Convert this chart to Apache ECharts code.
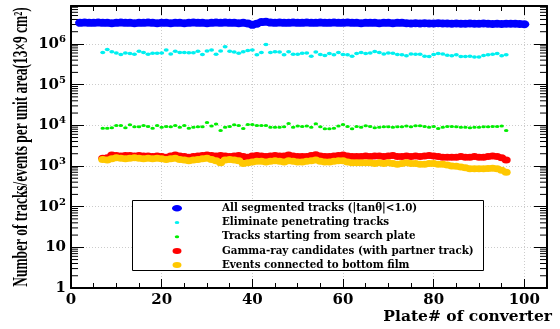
<!doctype html>
<html lang="en">
  <head>
    <meta charset="utf-8">
    <title>Tracks per plate</title>
    <script src="https://cdn.jsdelivr.net/npm/echarts@6.0.0/dist/echarts.min.js"></script>
    <style>
      html, body {
        width: 100%;
        height: 100%;
        margin: 0;
        background: #fff;
      }

      #chart {
        width: 560px;
        height: 329px;
      }
    </style>
  </head>
  <body>
    <div id="chart"></div>
    <script>
      // plate numbers (consecutive) for each series
      const range = (a, b) => { let r = []; for (let i = a; i <= b; i++) r.push(i); return r; };
      const platesAll = range(2, 100);
      const platesRest = range(7, 96);

      const seriesNames = [
        'All segmented tracks (|tan\u03b8|<1.0)',
        'Eliminate penetrating tracks',
        'Tracks starting from search plate',
        'Gamma-ray candidates (with partner track)',
        'Events connected to bottom film'
      ];
      const seriesColors = ['#0000ff', '#00f0f0', '#00ee00', '#ff0000', '#ffc800'];

      // plates 2..100
      const allTracks = [
        3.3e6, 3.35e6, 3.3e6, 3.3e6, 3.35e6, 3.3e6, 3.3e6, 3.25e6, 3.3e6, 3.35e6,
        3.3e6, 3.3e6, 3.25e6, 3.3e6, 3.3e6, 3.35e6, 3.3e6, 3.25e6, 3.3e6, 3.3e6,
        3.25e6, 3.3e6, 3.3e6, 3.25e6, 3.3e6, 3.35e6, 3.3e6, 3.3e6, 3.25e6, 3.3e6,
        3.35e6, 3.3e6, 3.35e6, 3.3e6, 3.3e6, 3.25e6, 3.3e6, 3.2e6, 2.95e6, 3.15e6,
        3.45e6, 3.5e6, 3.35e6, 3.3e6, 3.35e6, 3.3e6, 3.3e6, 3.35e6, 3.3e6, 3.3e6,
        3.35e6, 3.3e6, 3.3e6, 3.35e6, 3.3e6, 3.3e6, 3.35e6, 3.3e6, 3.3e6, 3.35e6,
        3.3e6, 3.3e6, 3.25e6, 3.3e6, 3.3e6, 3.3e6, 3.25e6, 3.3e6, 3.3e6, 3.25e6,
        3.3e6, 3.3e6, 3.25e6, 3.2e6, 3.25e6, 3.2e6, 3.25e6, 3.2e6, 3.2e6, 3.25e6,
        3.2e6, 3.2e6, 3.15e6, 3.2e6, 3.15e6, 3.15e6, 3.2e6, 3.15e6, 3.15e6, 3.2e6,
        3.15e6, 3.1e6, 3.15e6, 3.1e6, 3.15e6, 3.15e6, 3.15e6, 3.1e6, 3.05e6
      ];

      // plates 7..96
      const nonPenetrating = [
        6.2e5, 7.3e5, 6.4e5, 6.0e5, 5.5e5, 6.0e5, 5.8e5, 5.6e5, 6.6e5, 6.2e5,
        5.6e5, 5.9e5, 5.9e5, 6.0e5, 7.1e5, 5.7e5, 6.6e5, 6.2e5, 6.2e5, 6.1e5,
        6.1e5, 6.6e5, 5.5e5, 6.7e5, 7.1e5, 5.6e5, 6.7e5, 8.5e5, 6.6e5, 6.3e5,
        5.9e5, 6.4e5, 6.9e5, 7.1e5, 5.4e5, 6.2e5, 9.7e5, 6.2e5, 6.4e5, 6.3e5,
        5.4e5, 6.4e5, 5.6e5, 5.6e5, 5.9e5, 6.0e5, 5.0e5, 6.3e5, 5.5e5, 5.2e5,
        5.8e5, 5.4e5, 6.2e5, 5.5e5, 5.4e5, 5.0e5, 5.8e5, 6.2e5, 5.8e5, 6.0e5,
        6.5e5, 6.2e5, 5.7e5, 6.0e5, 5.9e5, 5.5e5, 5.4e5, 5.1e5, 5.7e5, 5.6e5,
        5.6e5, 5.0e5, 4.9e5, 5.5e5, 5.8e5, 5.7e5, 5.3e5, 5.1e5, 5.4e5, 4.9e5,
        4.9e5, 5.0e5, 4.8e5, 4.8e5, 5.2e5, 5.4e5, 5.6e5, 5.8e5, 5.1e5, 5.4e5
      ];

      // plates 7..96
      const startingTracks = [
        8.5e3, 8.5e3, 8.7e3, 9.9e3, 9.9e3, 8.7e3, 1.03e4, 9.2e3, 9.2e3, 9.9e3,
        9.4e3, 8.5e3, 9.9e3, 8.9e3, 9.4e3, 9.2e3, 9.9e3, 8.9e3, 9.9e3, 8.5e3,
        9.0e3, 9.2e3, 9.2e3, 1.18e4, 9.6e3, 1.07e4, 7.5e3, 8.9e3, 9.4e3, 1.03e4,
        9.9e3, 8.4e3, 1.05e4, 1.05e4, 9.9e3, 9.9e3, 9.9e3, 8.9e3, 9.0e3, 9.0e3,
        9.2e3, 1.11e4, 8.9e3, 9.6e3, 9.4e3, 9.6e3, 9.0e3, 1.09e4, 9.2e3, 8.2e3,
        8.2e3, 8.5e3, 9.6e3, 1.05e4, 9.4e3, 8.2e3, 9.4e3, 8.9e3, 9.7e3, 9.4e3,
        8.7e3, 8.9e3, 9.2e3, 9.2e3, 9.0e3, 9.2e3, 9.2e3, 9.6e3, 9.2e3, 9.7e3,
        9.7e3, 9.4e3, 8.9e3, 9.4e3, 8.4e3, 9.0e3, 9.4e3, 9.4e3, 9.2e3, 8.9e3,
        8.9e3, 8.7e3, 8.9e3, 9.0e3, 9.2e3, 9.2e3, 9.4e3, 9.4e3, 9.6e3, 7.5e3
      ];

      // plates 7..96
      const gammaCandidates = [
        1550, 1600, 1850, 1800, 1750, 1800, 1800, 1750, 1800, 1750,
        1750, 1700, 1750, 1700, 1650, 1750, 1850, 1750, 1700, 1650,
        1700, 1750, 1800, 1850, 1800, 1750, 1800, 1750, 1700, 1750,
        1800, 1700, 1650, 1750, 1800, 1750, 1700, 1750, 1800, 1750,
        1750, 1850, 1750, 1700, 1700, 1700, 1800, 1900, 1750, 1700,
        1700, 1750, 1800, 1850, 1750, 1700, 1700, 1700, 1750, 1700,
        1750, 1750, 1700, 1750, 1800, 1700, 1700, 1750, 1700, 1750,
        1700, 1750, 1800, 1750, 1700, 1650, 1650, 1650, 1650, 1700,
        1650, 1650, 1700, 1650, 1650, 1700, 1750, 1700, 1600, 1400
      ];

      // plates 7..96
      const bottomFilm = [
        1450, 1400, 1500, 1600, 1550, 1500, 1550, 1600, 1550, 1500,
        1550, 1500, 1550, 1500, 1450, 1500, 1550, 1450, 1400, 1350,
        1400, 1450, 1500, 1550, 1450, 1350, 1200, 1400, 1450, 1400,
        1350, 1150, 1200, 1250, 1300, 1300, 1250, 1300, 1350, 1300,
        1250, 1350, 1300, 1250, 1250, 1300, 1350, 1400, 1300, 1250,
        1250, 1300, 1350, 1350, 1250, 1200, 1200, 1200, 1200, 1200,
        1150, 1200, 1150, 1200, 1150, 1100, 1150, 1200, 1150, 1150,
        1100, 1100, 1150, 1150, 1100, 1100, 1050, 1000, 980, 950,
        900, 860, 850, 850, 850, 870, 880, 850, 780, 700
      ];

      const xTicks = [0, 20, 40, 60, 80, 100];

      const X_MAX = 105;
      const Y_MAX = 8.57e6;
      const ellipse = 'path://M0,2A3,2,0,1,1,6,2A3,2,0,1,1,0,2Z';
      const tickFont = 'DejaVu Serif';

      const zip = (xs, ys) => xs.map((x, i) => [x, ys[i]]);

      // log minor tick positions (2..9 x 10^k)
      const minorLog = [];
      for (let k = 0; k <= 6; k++) {
        for (let m = 2; m <= 9; m++) {
          if (m * Math.pow(10, k) < Y_MAX) minorLog.push([0, m * Math.pow(10, k)]);
        }
      }

      const chart = echarts.init(document.getElementById('chart'), null, {renderer: 'canvas'});

      const gridLine = {
        show: true,
        lineStyle: { color: '#cccccc', type: [1, 2], width: 1 }
      };

      const yLabel = (v) => {
        const e = Math.log10(v);
        const r = Math.round(e);
        if (Math.abs(e - r) > 1e-6) return '';
        if (r === 0) return '1';
        if (r === 1) return '10';
        return '10{s|' + r + '}';
      };

      const markerSizes = [[10, 8], [5, 3.5], [4.5, 3], [9, 7], [9, 7]];
      const legendMarks = [[10, 6.5], [4.6, 3.2], [4.4, 3], [9, 6], [9, 6]];
      const rowCenters = [208.3, 222.5, 236.7, 250.9, 265.1];
      const LEG_MARK_X = 177;
      const LEG_TEXT_X = 222;

      const dataSets = [
        zip(platesAll, allTracks),
        zip(platesRest, nonPenetrating),
        zip(platesRest, startingTracks),
        zip(platesRest, gammaCandidates),
        zip(platesRest, bottomFilm)
      ];

      const option = {
        animation: false,
        grid: { left: 71, top: 6, right: 13, bottom: 41 },
        xAxis: [
          {
            type: 'value',
            min: 0,
            max: X_MAX,
            interval: 20,
            axisLine: { onZero: false, lineStyle: { color: '#000', width: 2 } },
            axisTick: { inside: true, length: 9, lineStyle: { color: '#000', width: 1 } },
            minorTick: { show: true, splitNumber: 4, length: 5, lineStyle: { color: '#000', width: 1 } },
            splitLine: gridLine,
            axisLabel: {
              margin: 5,
              fontFamily: tickFont,
              fontWeight: 'bold',
              fontSize: 15,
              color: '#000',
              formatter: (v) => xTicks.includes(v) ? String(v) : ''
            }
          },
          {
            type: 'value',
            position: 'top',
            min: 0,
            max: X_MAX,
            interval: 20,
            axisLine: { onZero: false, lineStyle: { color: '#000', width: 2 } },
            axisTick: { inside: true, length: 9, lineStyle: { color: '#000', width: 1 } },
            minorTick: { show: true, splitNumber: 4, length: 5, lineStyle: { color: '#000', width: 1 } },
            splitLine: { show: false },
            axisLabel: { show: false }
          }
        ],
        yAxis: [
          {
            type: 'log',
            logBase: 10,
            min: 1,
            max: Y_MAX,
            axisLine: { onZero: false, lineStyle: { color: '#000', width: 2 } },
            axisTick: { inside: true, length: 13, lineStyle: { color: '#000', width: 1 } },
            splitLine: gridLine,
            axisLabel: {
              margin: 5,
              fontFamily: tickFont,
              fontWeight: 'bold',
              fontSize: 15,
              color: '#000',
              formatter: yLabel,
              rich: {
                s: { fontFamily: tickFont, fontWeight: 'bold', fontSize: 10, color: '#000', padding: [0, 0, 9, 0] }
              }
            }
          },
          {
            type: 'log',
            logBase: 10,
            position: 'right',
            min: 1,
            max: Y_MAX,
            axisLine: { onZero: false, lineStyle: { color: '#000', width: 2 } },
            axisTick: { inside: true, length: 13, lineStyle: { color: '#000', width: 1 } },
            splitLine: { show: false },
            axisLabel: { show: false }
          }
        ],
        legend: seriesNames.map((name, i) => ({
          orient: 'vertical',
          left: LEG_MARK_X - legendMarks[i][0] / 2,
          top: rowCenters[i] - 7,
          padding: 0,
          itemWidth: legendMarks[i][0],
          itemHeight: legendMarks[i][1],
          symbolKeepAspect: false,
          selectedMode: false,
          textStyle: {
            fontFamily: tickFont,
            fontWeight: 'bold',
            fontSize: 10.3,
            lineHeight: 14,
            color: '#000',
            padding: [0, 0, 0, LEG_TEXT_X - LEG_MARK_X - legendMarks[i][0] / 2 - 5]
          },
          data: [{ name: name, icon: ellipse }],
          z: 5
        })),
        graphic: [
          {
            type: 'rect',
            z: 3,
            shape: { x: 132.5, y: 200.5, width: 351, height: 70 },
            style: { fill: '#fff', stroke: '#000', lineWidth: 1 }
          },
          {
            type: 'text',
            x: 22,
            y: 147,
            rotation: Math.PI / 2,
            scaleX: 0.67,
            style: {
              text: 'Number of tracks/events per unit area(13\u00d79 cm\u00b2)',
              font: 'bold 20px "Liberation Serif"',
              fill: '#000',
              align: 'center',
              verticalAlign: 'middle'
            }
          },
          {
            type: 'text',
            x: 552,
            y: 317,
            style: {
              text: 'Plate# of converter',
              font: 'bold 15.5px "DejaVu Serif"',
              fill: '#000',
              align: 'right',
              verticalAlign: 'middle'
            }
          }
        ],
        series: seriesNames.map((name, i) => ({
          name: name,
          type: 'scatter',
          symbol: ellipse,
          symbolSize: markerSizes[i],
          itemStyle: { color: seriesColors[i], opacity: 1 },
          data: dataSets[i],
          z: 2 + i * 0.01
        })).concat([
          {
            type: 'custom',
            silent: true,
            clip: false,
            data: minorLog,
            renderItem: (params, api) => {
              const v = api.value(1);
              const p0 = api.coord([0, v]);
              const p1 = api.coord([X_MAX, v]);
              return {
                type: 'group',
                children: [
                  { type: 'line', shape: { x1: p0[0], y1: p0[1], x2: p0[0] + 7, y2: p0[1] }, style: { stroke: '#000', lineWidth: 1 } },
                  { type: 'line', shape: { x1: p1[0] - 7, y1: p1[1], x2: p1[0], y2: p1[1] }, style: { stroke: '#000', lineWidth: 1 } }
                ]
              };
            }
          }
        ])
      };

      chart.setOption(option);
    </script>
  </body>
</html>
